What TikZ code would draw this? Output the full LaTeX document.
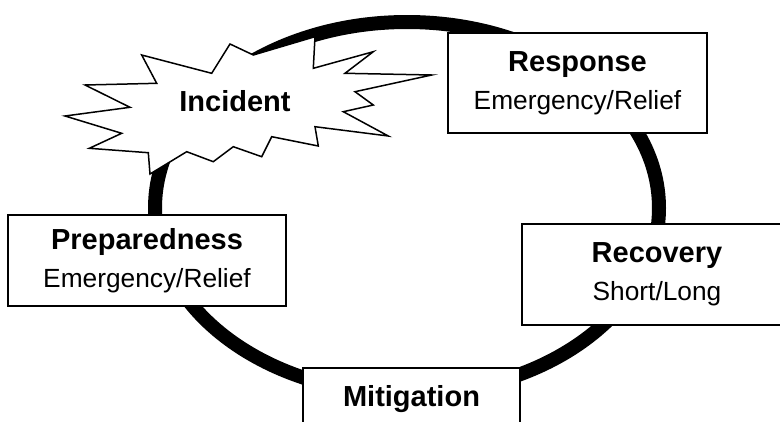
\documentclass[tikz,border=0pt]{standalone}
\usepackage{fontspec}
\setmainfont{Liberation Sans}
\usetikzlibrary{calc}

\tikzset{
  phasebox/.style={draw, line width=1.5pt, fill=white, align=center,
    inner sep=0pt, font=\fontsize{26.3}{38}\selectfont},
}
\newcommand{\phasetext}[2]{{\bfseries\fontsize{29}{38}\selectfont #1}\\#2}

\begin{document}
\begin{tikzpicture}[x=1pt, y=-1pt]
        \useasboundingbox (0,0) rectangle (780,421);
        \clip (0,0) rectangle (780,421);

        % 灾害管理循环
        \coordinate (C) at (407, 208);
        \draw [line width=14pt] (C) ellipse (252pt and 186pt);

        % 突发事件
        \draw [line width=1.5pt, fill=white, line join=miter]
            (141.7,55) -- (156.7,83.3) -- (85,85) -- (130,107.3) -- (65,116)
            -- (121.7,133.3) -- (89.3,148.3) -- (148.3,152.7) -- (150,174)
            -- (186.7,151.7) -- (213.3,161.7) -- (233.3,146.7) -- (261.7,156.7)
            -- (271.7,136.7) -- (318.3,146) -- (315,126.7) -- (388.3,136)
            -- (343.3,111.7) -- (373.3,105) -- (355,91.7) -- (431.7,75)
            -- (345,73.3) -- (373.3,51.7) -- (313.3,68.3) -- (315,36.7)
            -- (253.3,55) -- (230,44) -- (211.7,73.3) -- cycle;
        \node (Incident) at (235, 101) {\bfseries\fontsize{29}{34}\selectfont Incident};

        % 各阶段
        \node [phasebox, minimum width=259pt, minimum height=100pt] (Response)
            at (577.5, 83) {\phasetext{Response}{Emergency/Relief}};
        \node [phasebox, minimum width=270pt, minimum height=101pt] (Recovery)
            at (657, 274.5) {\phasetext{Recovery}{Short/Long}};
        \node [phasebox, minimum width=217pt, minimum height=62pt] (Mitigation)
            at (411.5, 399) {\bfseries\fontsize{29}{38}\selectfont Mitigation};
        \node [phasebox, minimum width=278pt, minimum height=91pt] (Preparedness)
            at (147, 260.5) {\phasetext{Preparedness}{Emergency/Relief}};
\end{tikzpicture}
\end{document}
